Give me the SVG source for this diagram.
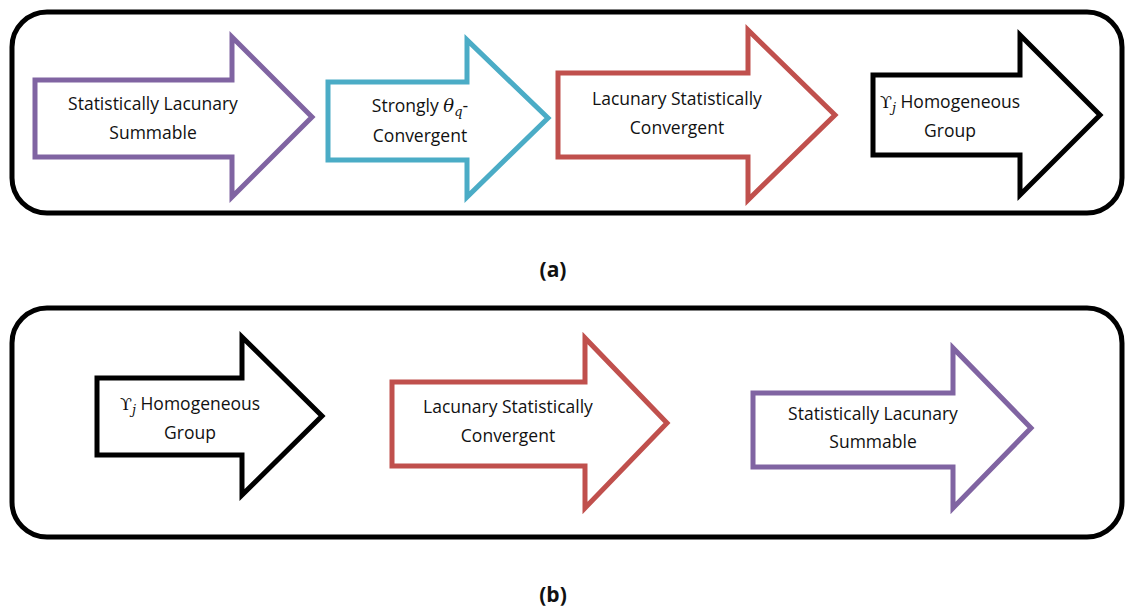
<svg xmlns="http://www.w3.org/2000/svg" width="1126" height="613" viewBox="0 0 1126 613">
<style>
.frame{fill:#fff;stroke:#000;stroke-width:5}
.arr{fill:#fff;stroke-width:5;stroke-linejoin:miter}
.purple{stroke:#8064A2}
.blue{stroke:#4BACC6}
.red{stroke:#C0504D}
.black{stroke:#000}
.t{font-family:"Open Sans","Liberation Sans",sans-serif;font-size:17.5px;fill:#111;text-anchor:middle}
.m{font-family:"DejaVu Serif","Liberation Serif",serif;font-style:italic}
.u{font-family:"DejaVu Serif","Liberation Serif",serif}
.cap{font-family:"Open Sans","Liberation Sans",sans-serif;font-size:21px;font-weight:bold;fill:#111;text-anchor:middle}
</style>
<rect width="1126" height="613" fill="#fff"/>
<g id="panel-a">
<rect class="frame" x="12" y="12" width="1110" height="201" rx="35"/>
</g>
<g id="panel-b">
<rect class="frame" x="12" y="308" width="1110" height="229" rx="35"/>
</g>
<g id="a1">
<polygon class="arr purple" points="35,80 232,80 232,37 312,117 232,197 232,157 35,157"/>
<text class="t" x="153" y="110">Statistically Lacunary</text>
<text class="t" x="153" y="139">Summable</text>
</g>
<g id="a2">
<polygon class="arr blue" points="328,82 467,82 467,40 548,118 467,197 467,160 328,160"/>
<text class="t" x="420" y="112">Strongly <tspan class="m" font-size="18">θ</tspan><tspan class="m" font-size="13" dy="4">q</tspan><tspan dy="-4">-</tspan></text>
<text class="t" x="420" y="142">Convergent</text>
</g>
<g id="a3">
<polygon class="arr red" points="558,73 748,73 748,30 835,115 748,200 748,157 558,157"/>
<text class="t" x="677" y="105">Lacunary Statistically</text>
<text class="t" x="677" y="134">Convergent</text>
</g>
<g id="a4">
<polygon class="arr black" points="873,75 1020,75 1020,35 1100,115 1020,195 1020,155 873,155"/>
<text class="t" x="950" y="108"><tspan class="u">ϒ</tspan><tspan class="m" font-size="13" dy="4">j</tspan><tspan dy="-4"> Homogeneous</tspan></text>
<text class="t" x="950" y="137">Group</text>
</g>
<g id="b1">
<polygon class="arr black" points="97,378 242,378 242,337 322,416 242,495 242,455 97,455"/>
<text class="t" x="190" y="410"><tspan class="u">ϒ</tspan><tspan class="m" font-size="13" dy="4">j</tspan><tspan dy="-4"> Homogeneous</tspan></text>
<text class="t" x="190" y="439">Group</text>
</g>
<g id="b2">
<polygon class="arr red" points="392,382 585,382 585,338 667,423 585,508 585,466 392,466"/>
<text class="t" x="508" y="413">Lacunary Statistically</text>
<text class="t" x="508" y="442">Convergent</text>
</g>
<g id="b3">
<polygon class="arr purple" points="753,393 953,393 953,348 1031,428 953,508 953,467 753,467"/>
<text class="t" x="873" y="420">Statistically Lacunary</text>
<text class="t" x="873" y="448">Summable</text>
</g>
<g id="connectors"/>
<text class="cap" x="553" y="277">(a)</text>
<text class="cap" x="553" y="602">(b)</text>
</svg>
